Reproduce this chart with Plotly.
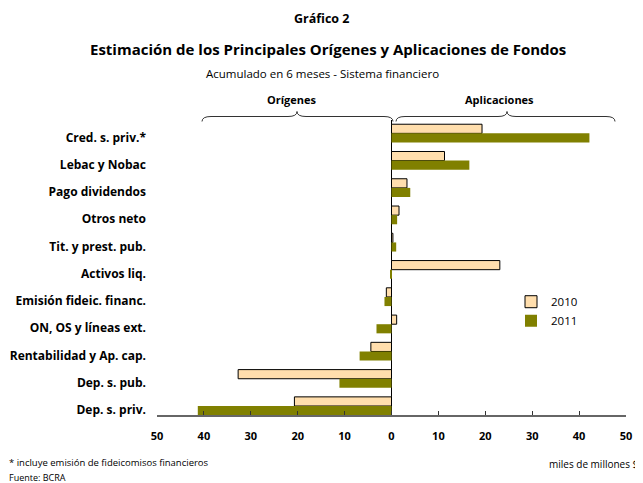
import plotly.graph_objects as go

categories = ["Cred. s. priv.*", "Lebac y Nobac", "Pago dividendos", "Otros neto",
              "Tit. y prest. pub.", "Activos liq.", "Emisión fideic. financ.",
              "ON, OS y líneas ext.", "Rentabilidad y Ap. cap.", "Dep. s. pub.",
              "Dep. s. priv."]
v2010 = [19.3, 11.3, 3.3, 1.6, 0.3, 23.1, -1.1, 1.1, -4.4, -32.7, -20.7]
v2011 = [42.2, 16.6, 4.0, 1.2, 1.0, -0.2, -1.5, -3.2, -6.8, -11.1, -41.3]
tick_vals = [-50, -40, -30, -20, -10, 0, 10, 20, 30, 40, 50]
tick_text = ["50", "40", "30", "20", "10", "0", "10", "20", "30", "40", "50"]

# page has an 8px body margin; the figure is sized to fill the rest of the window
OFF = 8
W, H = 643 - OFF, 483 - OFF
PL, PR, PT, PB = 157, 626, 119.5, 415          # plot area in window pixels
L, R, T, B = PL - OFF, W - (PR - OFF), PT - OFF, H - (PB - OFF)
PW, PH = W - L - R, H - T - B


def px(x):
    return (x - OFF - L) / PW


def py(y):
    return (H - B - (y - OFF)) / PH


FONT = "Open Sans"

fig = go.Figure()
fig.add_trace(go.Bar(y=categories, x=v2010, orientation="h", name="2010",
                     marker=dict(color="#FFDEAD", line=dict(color="black", width=1))))
fig.add_trace(go.Bar(y=categories, x=v2011, orientation="h", name="2011",
                     marker=dict(color="#808000", line=dict(width=0))))


def brace(xa, xb, xc, y_end=121, y_mid=116, y_tip=111, r=9):
    return (f"M {px(xa)},{py(y_end)} Q {px(xa)},{py(y_mid)} {px(xa + r)},{py(y_mid)} "
            f"L {px(xc - r)},{py(y_mid)} Q {px(xc)},{py(y_mid)} {px(xc)},{py(y_tip)} "
            f"Q {px(xc)},{py(y_mid)} {px(xc + r)},{py(y_mid)} "
            f"L {px(xb - r)},{py(y_mid)} Q {px(xb)},{py(y_mid)} {px(xb)},{py(y_end)}")


shapes = [
    dict(type="path", xref="paper", yref="paper", path=brace(202, 393, 297),
         line=dict(color="#333333", width=1)),
    dict(type="path", xref="paper", yref="paper", path=brace(396, 615, 507),
         line=dict(color="#333333", width=1)),
]

annotations = [
    dict(text="<b>Gráfico 2</b>", x=px(322), y=py(18), size=12.5),
    dict(text="<b>Estimación de los Principales Orígenes y Aplicaciones de Fondos</b>",
         x=px(328), y=py(48), size=15),
    dict(text="Acumulado en 6 meses - Sistema financiero", x=px(322), y=py(73), size=11.5),
    dict(text="<b>Orígenes</b>", x=px(292), y=py(99), size=11),
    dict(text="<b>Aplicaciones</b>", x=px(499), y=py(99), size=11),
]
ann = []
for a in annotations:
    ann.append(dict(text=a["text"], x=a["x"], y=a["y"], xref="paper", yref="paper",
                    xanchor="center", yanchor="middle", showarrow=False,
                    font=dict(family=FONT, size=a["size"], color="black")))
ann.append(dict(text="* incluye emisión de fideicomisos financieros", x=px(7), y=py(463),
                xref="paper", yref="paper", xanchor="left", yanchor="middle",
                showarrow=False, font=dict(family=FONT, size=9.5, color="black")))
ann.append(dict(text="Fuente: BCRA", x=px(7), y=py(478), xref="paper", yref="paper",
                xanchor="left", yanchor="middle", showarrow=False,
                font=dict(family=FONT, size=9, color="black")))
ann.append(dict(text="miles de millones $", x=px(547), y=py(464), xref="paper", yref="paper",
                xanchor="left", yanchor="middle", showarrow=False,
                font=dict(family=FONT, size=10, color="black")))

fig.update_layout(
    width=W, height=H,
    margin=dict(l=L, r=R, t=T, b=B, pad=0, autoexpand=False),
    paper_bgcolor="white", plot_bgcolor="white",
    barmode="group", bargap=0.33, bargroupgap=0,
    font=dict(family=FONT, color="black"),
    shapes=shapes, annotations=ann,
    legend=dict(x=px(511), y=py(287), xanchor="left", yanchor="top",
                font=dict(family=FONT, size=11.5, color="black"),
                bgcolor="rgba(0,0,0,0)", tracegroupgap=0),
    xaxis=dict(range=[-50, 50], tickvals=tick_vals, ticktext=tick_text,
               showgrid=False, zeroline=True, zerolinecolor="black", zerolinewidth=1,
               showline=True, linecolor="#666666", linewidth=2,
               ticks="inside", ticklen=4, tickcolor="#333333", tickwidth=1,
               ticklabelstandoff=10, automargin=False,
               tickfont=dict(family=FONT, size=11, color="black", weight="bold")),
    yaxis=dict(type="category", categoryorder="array", categoryarray=categories,
               range=[10.33, -0.49], showgrid=False, zeroline=False, showline=False,
               ticks="", ticklabelstandoff=10, ticklabelshift=-4, automargin=False,
               tickfont=dict(family=FONT, size=12, color="black", weight="bold")),
)

fig.write_html("out.html")
